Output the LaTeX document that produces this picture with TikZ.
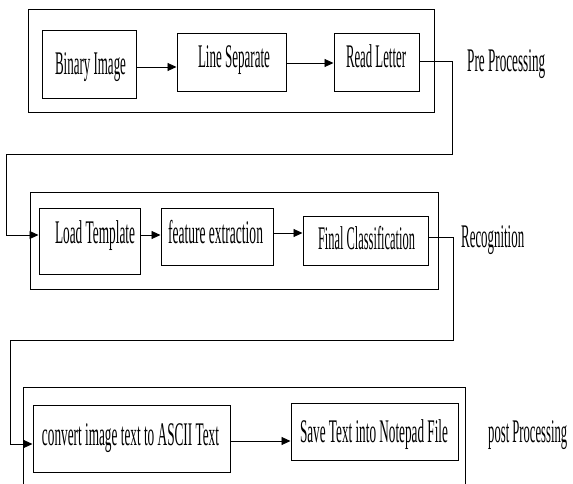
\documentclass[tikz,border=0pt]{standalone}
\usepackage{fontspec}
\setmainfont{Liberation Serif}
\usetikzlibrary{arrows.meta}
\newcommand\bigf{\fontsize{33pt}{35pt}\selectfont}
\newcommand\tx[4]{\makebox[0pt]{\hspace*{#1}\raisebox{#2}{\resizebox{#3}{\height}{\bigf #4}}}}
\newcommand\lb[2]{\resizebox{#1}{\height}{\bigf #2}}
\begin{document}
\begin{tikzpicture}[x=1pt,y=-1pt,
  box/.style={draw=black, line width=1pt, inner sep=0pt, text height=22pt, text depth=0pt, anchor=center},
  outer/.style={draw=black, line width=1pt, inner sep=0pt, anchor=center},
  lbl/.style={inner sep=0pt, anchor=base west},
  arr/.style={draw=black, line width=0.9pt, -{Triangle[length=9pt,width=8pt]}}]
\clip (0,0) rectangle (573,484);
\fill[white] (0,0) rectangle (573,484);
% outer boxes
\node[outer, minimum width=406pt, minimum height=103.5pt] (o1) at (231,61.25) {};
\node[outer, minimum width=408pt, minimum height=97pt] (o2) at (234,240.5) {};
\node[outer, minimum width=442pt, minimum height=113pt] (o3) at (244,443.5) {};
% row 1
\node[box, minimum width=94pt, minimum height=68pt] (bi) at (89,65) {\tx{3pt}{1pt}{71pt}{Binary Image}};
\node[box, minimum width=109pt, minimum height=58pt] (ls) at (231.5,63) {\tx{5pt}{6.5pt}{72pt}{Line Separate}};
\node[box, minimum width=85pt, minimum height=58pt] (rl) at (376.5,63) {\tx{-1pt}{6.5pt}{60pt}{Read Letter}};
\node[lbl] (pp) at (467,72) {\lb{78pt}{Pre Processing}};
% row 2
\node[box, minimum width=101pt, minimum height=66pt] (lt) at (89.5,241) {\tx{11pt}{8.5pt}{80pt}{Load Template}};
\node[box, minimum width=112pt, minimum height=57pt] (fe) at (217,236.5) {\tx{-3pt}{4.5pt}{95pt}{feature extraction}};
\node[box, minimum width=125pt, minimum height=49pt] (fc) at (365.5,240.5) {\tx{2pt}{2.5pt}{97pt}{Final Classification}};
\node[lbl] (rc) at (461,247) {\lb{63pt}{Recognition}};
% row 3
\node[box, minimum width=197pt, minimum height=67pt] (cv) at (131.5,438.5) {\tx{-2pt}{4pt}{177pt}{convert image text to ASCII Text}};
\node[box, minimum width=167pt, minimum height=57pt] (sv) at (374.5,431.5) {\tx{-1pt}{0.5pt}{148pt}{Save Text into Notepad File}};
\node[lbl] (po) at (488,442) {\lb{79pt}{post Processing}};
% bend points
\coordinate (k1) at (452,154);
\coordinate (k2) at (6,154);
\coordinate (k3) at (453,340);
\coordinate (k4) at (10,340);
% arrows
\draw[arr] (bi.east |- 0,67) -- (ls.west |- 0,67);
\draw[arr] (ls.east |- 0,63) -- (rl.west |- 0,63);
\draw[arr] (rl.east |- 0,61) -| (k1) -- (k2) |- (lt.west |- 0,235);
\draw[arr] (lt.east |- 0,235) -- (fe.west |- 0,235);
\draw[arr] (fe.east |- 0,233) -- (fc.west |- 0,233);
\draw[arr] (fc.east |- 0,237) -| (k3) -- (k4) |- (cv.west |- 0,444);
\draw[arr] (cv.east |- 0,441) -- (sv.west |- 0,441);
\end{tikzpicture}
\end{document}
